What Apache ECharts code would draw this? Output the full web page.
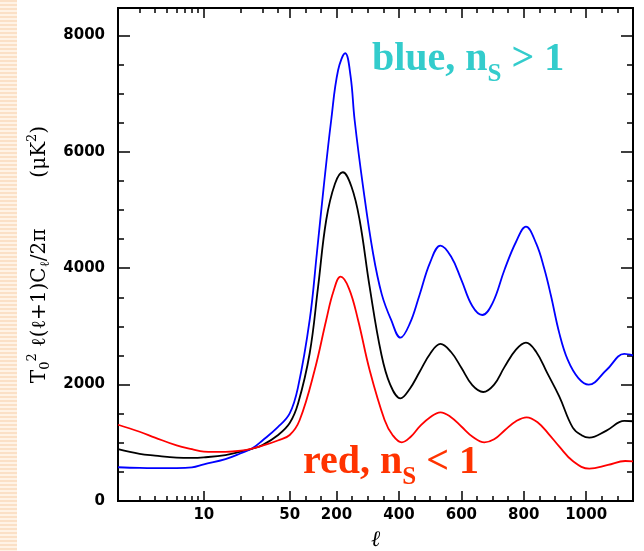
<!DOCTYPE html>
<html>
<head>
<meta charset="utf-8">
<script src="https://cdn.jsdelivr.net/npm/echarts@6/dist/echarts.min.js"></script>
<style>
  html, body { margin: 0; padding: 0; background: #fff; }
  #strip {
    position: absolute; left: 0; top: 0; width: 17px; height: 551px;
    background: repeating-linear-gradient(to bottom, #fbe0c6 0px, #fbe0c6 2px, #fff3e6 2px, #fff3e6 4px);
  }
  #chart { position: absolute; left: 0; top: 0; width: 644px; height: 551px; }
</style>
</head>
<body>
<div id="strip"></div>
<div id="chart"></div>
<script>
// n_s > 1 : multipoles and band power (uK^2)
const ellBlue = [2, 3, 4, 6, 8, 10, 15, 20, 25, 30, 40, 50,
  77, 114, 137, 159, 183, 205, 228, 245, 258, 285, 317, 345, 375, 405, 435, 466, 500, 533, 567, 600, 635,
  667, 700, 738, 775, 807, 840, 866, 887, 914, 941, 975, 1008, 1065, 1122, 1150];
const blue = [580, 568, 565, 565, 578, 630, 720, 820, 910, 1040, 1270, 1506,
  1964, 3110, 4256, 5401, 6546, 7400, 7693, 7300, 6546, 5401, 4256, 3550, 3110, 2806, 3050, 3540, 4100, 4387, 4200, 3800, 3350,
  3196, 3400, 3969, 4450, 4714, 4420, 3986, 3530, 2880, 2423, 2110, 1998, 2250, 2526, 2500];

// n_s = 1
const ellBlack = [2, 3, 4, 6, 8, 10, 15, 20, 25, 30, 40, 50,
  77, 114, 141, 167, 195, 220, 248, 274, 306, 343, 372, 405, 435, 466, 500, 533, 567, 600, 635,
  670, 705, 738, 775, 807, 840, 875, 914, 957, 985, 1010, 1065, 1122, 1150];
const black = [890, 810, 780, 745, 740, 750, 790, 850, 900, 960, 1130, 1340,
  1679, 2538, 3682, 4828, 5450, 5648, 5400, 4828, 3682, 2538, 2000, 1764, 1930, 2216, 2530, 2698, 2560, 2290, 1990,
  1873, 2000, 2300, 2600, 2720, 2560, 2200, 1793, 1260, 1130, 1088, 1210, 1375, 1370];

// n_s < 1
const ellRed = [2, 3, 4, 6, 8, 10, 15, 20, 25, 30, 40, 50,
  82, 130, 167, 190, 213, 240, 269, 306, 354, 380, 409, 437, 466, 500, 533, 567, 600, 637,
  674, 705, 740, 775, 809, 845, 880, 914, 957, 1010, 1070, 1125, 1150];
const red = [1310, 1190, 1090, 955, 890, 850, 845, 865, 905, 950, 1040, 1134,
  1392, 2251, 3110, 3600, 3854, 3650, 3110, 2251, 1392, 1130, 1008, 1100, 1277, 1440, 1524, 1440, 1280, 1100,
  1008, 1060, 1220, 1370, 1438, 1350, 1150, 933, 687, 555, 620, 687, 680];

const xMajor = [10, 50, 200, 400, 600, 800, 1000];
const xMinor = [3, 4, 5, 6, 7, 8, 9, 20, 30, 40, 100, 150, 250, 300, 350, 450, 500, 550,
  650, 700, 750, 850, 900, 950, 1050, 1100];
const yMajor = [0, 2000, 4000, 6000, 8000];
const yMinor = [500, 1000, 1500, 2500, 3000, 3500, 4500, 5000, 5500, 6500, 7000, 7500];

// x scale: logarithmic below l=50, linear above
const LOG_K = 393.6;
const toX = l => (l >= 50 ? l : 50 + LOG_K * Math.log10(l / 50));
const xLabel = v => {
  const t = xMajor.find(m => Math.abs(toX(m) - v) < 1e-6);
  return t === undefined ? '' : String(t);
};

const frame = { show: true, onZero: false, lineStyle: { color: '#000', width: 2 } };
const tickFont = { color: '#000', fontFamily: 'DejaVu Sans', fontWeight: 'bold', fontSize: 15 };

function xAxisDef(position, ticks, len, withLabels) {
  return {
    type: 'value', position: position, min: toX(2), max: 1150,
    axisLine: frame,
    axisTick: { show: true, inside: true, length: len, customValues: ticks.map(toX),
      lineStyle: { color: '#000', width: 1.5 } },
    axisLabel: withLabels
      ? Object.assign({ show: true, margin: 7, customValues: ticks.map(toX), formatter: xLabel }, tickFont)
      : { show: false },
    splitLine: { show: false }
  };
}

function yAxisDef(position, ticks, len, withLabels) {
  return {
    type: 'value', position: position, min: 0, max: 8470,
    axisLine: frame,
    axisTick: { show: true, inside: true, length: len, customValues: ticks,
      lineStyle: { color: '#000', width: 1.5 } },
    axisLabel: withLabels
      ? Object.assign({ show: true, margin: 13, customValues: ticks, formatter: v => String(v) }, tickFont)
      : { show: false },
    splitLine: { show: false }
  };
}

const xAxes = [
  xAxisDef('bottom', xMajor, 10, true),
  xAxisDef('bottom', xMinor, 5, false),
  xAxisDef('top', xMajor, 10, false),
  xAxisDef('top', xMinor, 5, false)
];
xAxes[0].name = 'ℓ';
xAxes[0].nameLocation = 'middle';
xAxes[0].nameGap = 28;
xAxes[0].nameTextStyle = { color: '#000', fontFamily: 'DejaVu Serif', fontStyle: 'italic', fontSize: 22 };

const yAxes = [
  yAxisDef('left', yMajor, 12, true),
  yAxisDef('left', yMinor, 6, false),
  yAxisDef('right', yMajor, 12, false),
  yAxisDef('right', yMinor, 6, false)
];
const yFont = { fontFamily: 'DejaVu Serif', color: '#000' };
yAxes[0].name = '{m|T}{sub|0}{sup|2}{m| ℓ(ℓ+1)C}{sub|ℓ}{m|/2π        (μK}{sup|2}{m|)}';
yAxes[0].nameLocation = 'middle';
yAxes[0].nameRotate = 90;
yAxes[0].nameGap = 66;
yAxes[0].nameTextStyle = {
  rich: {
    m: Object.assign({ fontSize: 20, lineHeight: 24 }, yFont),
    sub: Object.assign({ fontSize: 13, lineHeight: 24, padding: [13, 0, 0, 0] }, yFont),
    sup: Object.assign({ fontSize: 13, lineHeight: 24, padding: [0, 0, 13, 0] }, yFont)
  }
};

function spectrum(name, ells, values, color) {
  return {
    name: name, type: 'line', xAxisIndex: 0, yAxisIndex: 0,
    data: ells.map((l, i) => [toX(l), values[i]]),
    showSymbol: false, smooth: 0.4,
    lineStyle: { color: color, width: 1.8 },
    itemStyle: { color: color }
  };
}

function note(text, color) {
  const big = { fontFamily: 'Liberation Serif', fontWeight: 'bold', fontSize: 40, lineHeight: 40, fill: color };
  return {
    text: text,
    rich: {
      a: big,
      s: { fontFamily: 'Liberation Serif', fontWeight: 'bold', fontSize: 25, lineHeight: 40,
        padding: [30, 0, 0, 0], fill: color }
    }
  };
}

const chart = echarts.init(document.getElementById('chart'), null, { renderer: 'canvas' });
chart.setOption({
  animation: false,
  grid: { left: 118, right: 11, top: 8, bottom: 50, containLabel: false, outerBoundsMode: 'none' },
  xAxis: xAxes,
  yAxis: yAxes,
  series: [
    spectrum('black', ellBlack, black, '#000000'),
    spectrum('blue', ellBlue, blue, '#0000ff'),
    spectrum('red', ellRed, red, '#ff0000')
  ],
  graphic: [
    { type: 'text', x: 372, y: 40, style: note('{a|blue, n}{s|S}{a| > 1}', '#33cccc') },
    { type: 'text', x: 303, y: 443, style: note('{a|red, n}{s|S}{a| < 1}', '#ff3300') }
  ]
});
</script>
</body>
</html>
